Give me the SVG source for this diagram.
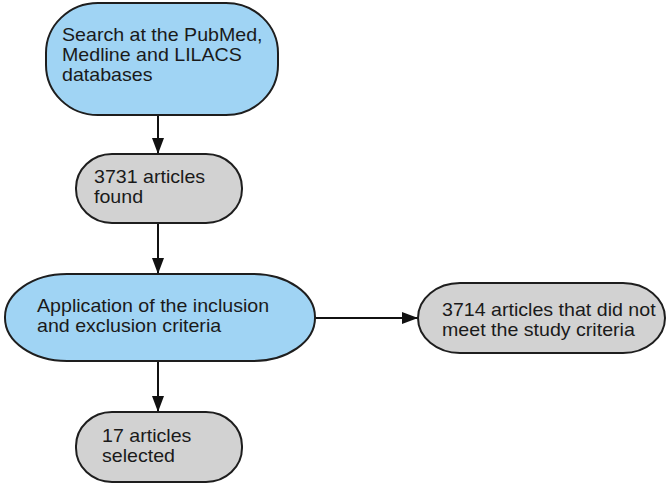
<svg xmlns="http://www.w3.org/2000/svg" width="670" height="486" viewBox="0 0 670 486">
<style>
.blue{fill:#a0d4f4;stroke:#1e1e1e;stroke-width:2}
.gray{fill:#d2d2d2;stroke:#1e1e1e;stroke-width:2}
.t{font-family:"Liberation Sans",Arial,sans-serif;font-size:18px;fill:#1a1a1a}
.c{stroke:#111;stroke-width:2;fill:none}
</style>
<defs>
<marker id="ah" markerUnits="userSpaceOnUse" markerWidth="16" markerHeight="12" refX="16" refY="6" orient="auto">
<path d="M0,0 L16,6 L0,12 z" fill="#111"/>
</marker>
</defs>
<rect width="670" height="486" fill="#fff"/>
<g id="connectors">
<line class="c" x1="158" y1="115" x2="158" y2="154" marker-end="url(#ah)"/>
<line class="c" x1="158" y1="223" x2="158" y2="274" marker-end="url(#ah)"/>
<line class="c" x1="158" y1="361" x2="158" y2="412" marker-end="url(#ah)"/>
<line class="c" x1="315" y1="318" x2="418" y2="318" marker-end="url(#ah)"/>
</g>
<g id="n1">
<rect class="blue" x="46" y="3" width="232" height="112" rx="52" ry="50"/>
<text class="t" transform="translate(62,41) scale(1.09,1)">Search at the PubMed,</text>
<text class="t" transform="translate(62,61) scale(1.09,1)">Medline and LILACS</text>
<text class="t" transform="translate(62,81) scale(1.09,1)">databases</text>
</g>
<g id="n2">
<rect class="gray" x="76" y="154" width="166" height="69" rx="36" ry="34"/>
<text class="t" transform="translate(94,183) scale(1.09,1)">3731 articles</text>
<text class="t" transform="translate(94,203) scale(1.09,1)">found</text>
</g>
<g id="n3">
<rect class="blue" x="5" y="274" width="310" height="87" rx="62" ry="43"/>
<text class="t" transform="translate(37,312) scale(1.09,1)">Application of the inclusion</text>
<text class="t" transform="translate(37,332) scale(1.09,1)">and exclusion criteria</text>
</g>
<g id="n4">
<rect class="gray" x="418" y="283" width="247" height="70" rx="42" ry="35"/>
<text class="t" transform="translate(442,316) scale(1.09,1)">3714 articles that did not</text>
<text class="t" transform="translate(442,336) scale(1.09,1)">meet the study criteria</text>
</g>
<g id="n5">
<rect class="gray" x="76" y="412" width="166" height="70" rx="36" ry="34"/>
<text class="t" transform="translate(102,442) scale(1.09,1)">17 articles</text>
<text class="t" transform="translate(102,462) scale(1.09,1)">selected</text>
</g>
</svg>
